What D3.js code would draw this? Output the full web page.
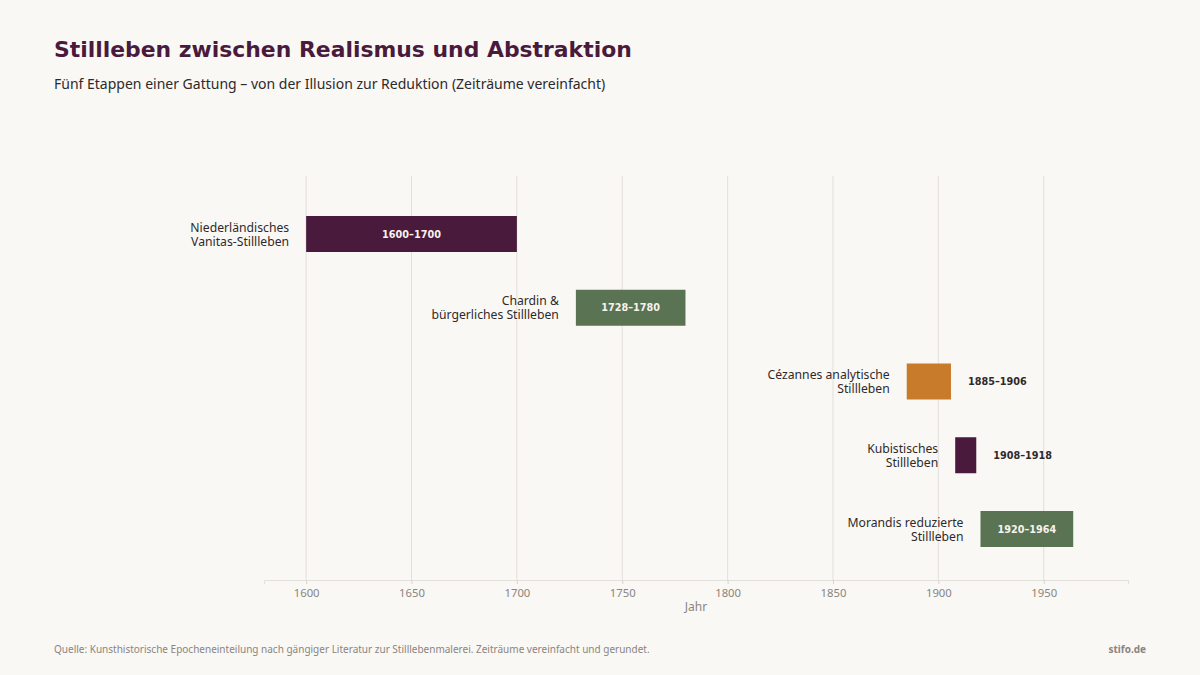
<!DOCTYPE html>
<html><head><meta charset="utf-8">
<script src="https://cdn.jsdelivr.net/npm/d3@7"></script>
<style>
html,body{margin:0;padding:0;background:#f9f8f5;}
svg{display:block;font-family:"Noto Sans",sans-serif;}
</style></head>
<body><svg id="c" width="1200" height="675"></svg>
<script>
const labels = [["Niederländisches","Vanitas-Stillleben"],["Chardin &","bürgerliches Stillleben"],["Cézannes analytische","Stillleben"],["Kubistisches","Stillleben"],["Morandis reduzierte","Stillleben"]];
const ids = ["vanitas","chardin","cezanne","kubismus","morandi"];
const starts = [1600,1728,1885,1908,1920];
const ends = [1700,1780,1906,1918,1964];
const colors = ["#4a1a3c","#5a7352","#c97b2c","#4a1a3c","#5a7352"];
const tickValues = [1600,1650,1700,1750,1800,1850,1900,1950];

const svg = d3.select("#c");
svg.append("rect").attr("width",1200).attr("height",675).attr("fill","#f9f8f5");

const x = d3.scaleLinear().domain([1580,1990]).range([264,1128]);
const y = d3.scalePoint().domain(ids).range([234,529]);
const barH = 36, plotTop = 176, plotBottom = 580;

// grid
svg.append("g").selectAll("line").data(tickValues).join("line")
  .attr("x1",d=>x(d)).attr("x2",d=>x(d)).attr("y1",plotTop).attr("y2",plotBottom)
  .attr("stroke","#e3dfdb").attr("stroke-width",1);

// axis
const ax = svg.append("g").attr("transform",`translate(0,${plotBottom})`)
  .call(d3.axisBottom(x).tickValues(tickValues).tickFormat(d3.format("d")).tickSize(4).tickPadding(5));
ax.select(".domain").attr("stroke","#e3dfdb");
ax.selectAll(".tick line").attr("stroke","#d8d4d0");
ax.selectAll(".tick text").attr("fill","#8a8580").attr("font-size",11.3).attr("font-family","Noto Sans, sans-serif");
svg.append("text").attr("x",(264+1128)/2).attr("y",611).attr("text-anchor","middle")
  .attr("fill","#8a8580").attr("font-size",12).text("Jahr");

const data = ids.map((id,i)=>({id,label:labels[i],s:starts[i],e:ends[i],c:colors[i]}));

const g = svg.append("g");
g.selectAll("rect.bar").data(data).join("rect").attr("class","bar")
  .attr("x",d=>x(d.s)).attr("width",d=>x(d.e)-x(d.s))
  .attr("y",d=>y(d.id)-barH/2).attr("height",barH).attr("fill",d=>d.c);

// category labels
data.forEach(d=>{
  const t = g.append("text").attr("x",x(d.s)-17).attr("y",y(d.id)).attr("text-anchor","end")
    .attr("fill","#2e2a2b").attr("font-size",12.2);
  d.label.forEach((l,j)=>{
    t.append("tspan").attr("x",x(d.s)-17).attr("y",y(d.id)+(j===0?-2.5:11.5)).text(l);
  });
});

// value labels
data.forEach(d=>{
  const w = x(d.e)-x(d.s);
  const txt = d.s+"–"+d.e;
  const inside = w>80;
  g.append("text")
    .attr("x", inside ? (x(d.s)+x(d.e))/2 : x(d.e)+17)
    .attr("y", y(d.id)+3.5)
    .attr("text-anchor", inside ? "middle":"start")
    .attr("font-family","DejaVu Sans, sans-serif")
    .attr("font-size",9.7).attr("font-weight","bold")
    .attr("fill", inside ? "#f6f2ee" : "#2e2a2b")
    .text(txt);
});

svg.append("text").attr("x",54).attr("y",57).attr("font-size",21.9).attr("font-weight","bold")
  .attr("font-family","DejaVu Sans, sans-serif")
  .attr("fill","#4a1a3c").text("Stillleben zwischen Realismus und Abstraktion");
svg.append("text").attr("x",54).attr("y",89).attr("font-size",14)
  .attr("fill","#2e2a2b").text("Fünf Etappen einer Gattung – von der Illusion zur Reduktion (Zeiträume vereinfacht)");
svg.append("text").attr("x",54).attr("y",653).attr("font-size",10)
  .attr("fill","#8a8580").text("Quelle: Kunsthistorische Epocheneinteilung nach gängiger Literatur zur Stilllebenmalerei. Zeiträume vereinfacht und gerundet.");
svg.append("text").attr("x",1146).attr("y",653).attr("font-size",10).attr("font-weight","bold").attr("text-anchor","end")
  .attr("fill","#8a8580").text("stifo.de");
</script></body></html>
